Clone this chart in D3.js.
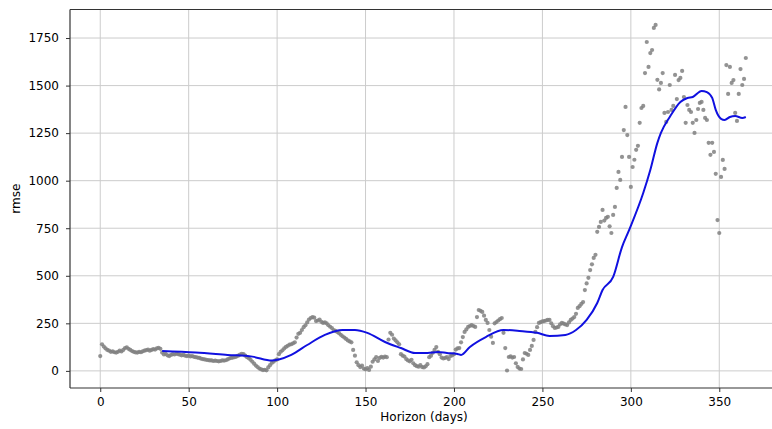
<!DOCTYPE html>
<html>
<head>
<meta charset="utf-8">
<script src="https://cdn.jsdelivr.net/npm/d3@7"></script>
<style>
  html, body { margin: 0; padding: 0; background: #fff; }
  svg { display: block; }
  text { font-family: "DejaVu Sans", sans-serif; fill: #000; }
</style>
</head>
<body>
<svg id="chart" width="772" height="429"></svg>
<script>
// Horizon (days) for each cross-validation point
const horizons = d3.range(0, 366);

// RMSE per horizon
const rmse = [
  78,140,128,118,110,106,100,103,98,96,100,106,102,110,120,124,116,110,104,100,97,96,100,98,103,106,109,112,106,110,114,112,118,121,116,96,
  86,90,82,78,84,88,86,90,88,85,
  82,84,80,78,80,76,78,74,72,70,
  68,64,62,60,58,57,55,55,52,54,
  52,50,52,55,54,56,60,65,68,70,
  72,75,80,85,90,88,80,72,66,58,
  48,38,28,20,12,8,4,6,3,18,
  30,42,48,56,60,
  88,100,108,118,126,132,138,140,145,150,
  175,195,200,215,230,240,255,270,278,283,
  280,262,265,270,258,252,255,250,240,232,
  225,215,210,205,198,190,182,175,168,160,
  155,150,110,80,45,30,20,28,12,8,
  15,5,22,48,60,72,52,68,74,70,
  75,72,165,200,190,170,160,150,140,88,
  80,75,62,55,50,58,40,30,25,22,
  30,20,18,24,35,72,80,95,110,125,
  100,88,70,65,68,72,62,78,82,88,
  112,118,120,150,178,205,218,231,236,241,
  236,231,283,320,316,310,290,268,252,215,
  180,147,250,257,265,272,278,200,120,2,
  73,76,70,73,40,21,12,10,60,94,
  90,84,110,131,163,205,230,252,256,260,
  262,265,268,268,250,235,226,228,231,245,
  252,248,244,241,255,268,275,283,300,331,
  340,352,362,425,460,489,530,560,594,610,
  731,757,783,846,790,804,810,760,725,820,
  862,962,1046,1004,1125,1266,1388,1240,1125,967,
  1072,1110,1162,1183,
  1304,1382,1393,1566,1729,1598,1671,1687,1803,1819,1530,1480,
  1514,1566,1356,1309,1361,1503,1372,1393,1556,1429,
  1529,1540,1577,1440,1304,1398,1372,1361,1304,1251,
  1319,1377,1409,1414,1372,1330,1319,1199,1136,1199,
  1151,1036,793,725,1020,1109,1062,1608,1456,1598,
  1514,1529,1356,1314,1456,1587,1503,1535,1645
];

// Rolling mean of RMSE
const meanDays = [35,54,72,86,97,101,108,117,127,137,144,151,161,170,178,185,191,196,202,204,209,218,228,237,247,254,263,269,275,281,284,290,295,299,307,311,315,317,322,328,332,335,340,343,346,348,351,353,356,359,363,365];
const meanRmse = [104,96,84,75,54,60,84,136,189,215,215,200,152,120,94,94,99,94,89,84,126,178,215,210,200,184,189,215,268,357,425,494,651,740,935,1056,1199,1251,1335,1414,1435,1440,1472,1466,1435,1372,1325,1319,1335,1340,1330,1335];

const xTicks = [0, 50, 100, 150, 200, 250, 300, 350];
const yTicks = [0, 250, 500, 750, 1000, 1250, 1500, 1750];

const svg = d3.select("#chart");
const plotLeft = 70, plotTop = 9.5, plotW = 708, plotH = 378.5;

const x = d3.scaleLinear().domain([-17.1, 383.2]).range([plotLeft, plotLeft + plotW]);
const y = d3.scaleLinear().domain([-90, 1900]).range([plotTop + plotH, plotTop]);

svg.append("defs").append("clipPath").attr("id", "plot-clip")
  .append("rect").attr("x", plotLeft).attr("y", plotTop).attr("width", plotW).attr("height", plotH);

// grid
const grid = svg.append("g");
grid.selectAll("line.gx").data(xTicks).join("line")
  .attr("class", "gx")
  .attr("x1", d => x(d)).attr("x2", d => x(d))
  .attr("y1", plotTop).attr("y2", plotTop + plotH)
  .attr("stroke", "#cccccc").attr("stroke-width", 1);
grid.selectAll("line.gy").data(yTicks).join("line")
  .attr("class", "gy")
  .attr("x1", plotLeft).attr("x2", plotLeft + plotW)
  .attr("y1", d => y(d)).attr("y2", d => y(d))
  .attr("stroke", "#cccccc").attr("stroke-width", 1);

const plot = svg.append("g").attr("clip-path", "url(#plot-clip)");

// points
plot.selectAll("circle").data(horizons).join("circle")
  .attr("cx", d => x(d))
  .attr("cy", (d, i) => y(rmse[i]))
  .attr("r", 2.1)
  .attr("fill", "#808080")
  .attr("fill-opacity", 0.85);

// rolling mean line
const line = d3.line()
  .x((d, i) => x(meanDays[i]))
  .y(d => y(d))
  .curve(d3.curveMonotoneX);
plot.append("path").datum(meanRmse)
  .attr("d", line)
  .attr("fill", "none")
  .attr("stroke", "#1010e0")
  .attr("stroke-width", 2);

// axes
const xAxis = d3.axisBottom(x).tickValues(xTicks).tickSize(4).tickPadding(5).tickFormat(d3.format("d"));
const yAxis = d3.axisLeft(y).tickValues(yTicks).tickSize(4).tickPadding(7).tickFormat(d3.format("d"));

const gx = svg.append("g").attr("transform", `translate(0,${plotTop + plotH})`).call(xAxis);
const gy = svg.append("g").attr("transform", `translate(${plotLeft},0)`).call(yAxis);
[gx, gy].forEach(g => {
  g.select(".domain").remove();
  g.selectAll(".tick line").attr("stroke", "#333");
  g.selectAll(".tick text").style("font-family", "DejaVu Sans, sans-serif").style("font-size", "12px").attr("fill", "#000");
});

// spines
svg.append("line").attr("x1", plotLeft).attr("x2", plotLeft).attr("y1", plotTop).attr("y2", plotTop + plotH)
  .attr("stroke", "#333").attr("stroke-width", 1.2);
svg.append("line").attr("x1", plotLeft).attr("x2", plotLeft + plotW).attr("y1", plotTop + plotH).attr("y2", plotTop + plotH)
  .attr("stroke", "#333").attr("stroke-width", 1.2);
svg.append("line").attr("x1", plotLeft).attr("x2", plotLeft + plotW).attr("y1", plotTop).attr("y2", plotTop)
  .attr("stroke", "#333").attr("stroke-width", 1.2);

// labels
svg.append("text").attr("x", plotLeft + plotW / 2).attr("y", 421)
  .attr("text-anchor", "middle").style("font-size", "12px").text("Horizon (days)");
svg.append("text").attr("transform", `translate(20,${plotTop + plotH / 2}) rotate(-90)`)
  .attr("text-anchor", "middle").style("font-size", "12px").text("rmse");
</script>
</body>
</html>
